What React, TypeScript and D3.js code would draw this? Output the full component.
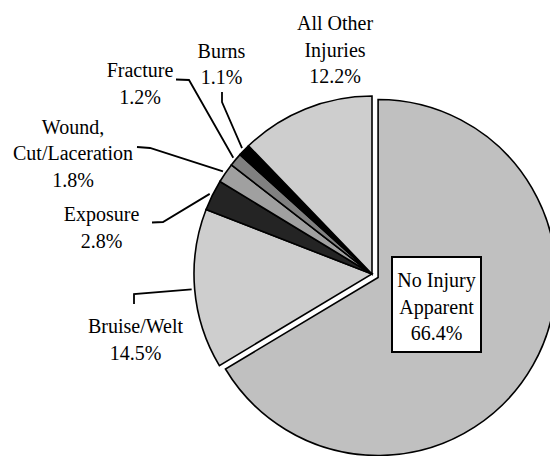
import React from 'react';
import * as d3 from 'd3';

const width = 550;
const height = 456;
const radius = 178;
const cx = 372;
const cy = 274;
const explode = 7;

// data (percent of cases)
const categories = ['No Injury Apparent', 'Bruise/Welt', 'Exposure', 'Wound, Cut/Laceration', 'Fracture', 'Burns', 'All Other Injuries'];
const shares = [66.4, 14.5, 2.8, 1.8, 1.2, 1.1, 12.2];
const labelLines = [['No Injury', 'Apparent'], ['Bruise/Welt'], ['Exposure'], ['Wound,', 'Cut/Laceration'], ['Fracture'], ['Burns'], ['All Other', 'Injuries']];

const fills = ['#c0c0c0', '#cecece', '#242424', '#a0a0a0', '#808080', '#000000', '#cecece'];

// where each label sits, and the elbow of its leader line
const labelLayout = [
    { x: 436.5, y: 287, elbow: null },
    { x: 135.5, y: 333, elbow: [[134, 304], [134, 294]] },
    { x: 101.5, y: 221, elbow: [[152, 222.5], [163, 222]] },
    { x: 73, y: 133.5, elbow: [[137, 147], [150, 148]] },
    { x: 140, y: 77, elbow: [[176, 79.5], [189, 80]] },
    { x: 221.5, y: 57.5, elbow: [[222, 92], [222, 102]] },
    { x: 335, y: 30, elbow: null },
];
const lineGap = 26.5;

const rows = categories.map((name, i) => ({ name, value: shares[i], i }));

const pie = d3.pie<any>()
    .sort(null)
    .value(d => d.value)
    .startAngle(0)
    .endAngle(2 * Math.PI);

const arc = d3.arc<any>().innerRadius(0).outerRadius(radius);
const edge = d3.arc<any>().innerRadius(radius + 3).outerRadius(radius + 3);

export default function App() {
    const arcs = pie(rows);

    return (
        <svg width={width} height={height} style={{ position: 'absolute', left: 0, top: 0, background: '#fff', fontFamily: 'Liberation Serif' }}>
            <g transform={`translate(${cx},${cy})`}>
                {arcs.map((d, i) => {
                    const mid = (d.startAngle + d.endAngle) / 2;
                    const off = i === 0 ? explode : 0;
                    return (
                        <path
                            key={d.data.name}
                            d={arc(d) || ''}
                            transform={`translate(${Math.sin(mid) * off},${-Math.cos(mid) * off})`}
                            fill={fills[i]}
                            stroke="#000"
                            strokeWidth={1.6}
                        />
                    );
                })}
            </g>
            {arcs.map((d, i) => {
                const lay = labelLayout[i];
                if (!lay.elbow) return null;
                const [ex, ey] = edge.centroid(d);
                const pts = [...lay.elbow, [cx + ex, cy + ey]];
                return (
                    <path key={'l' + i} d={d3.line()(pts as [number, number][]) || ''} fill="none" stroke="#000" strokeWidth={1.8} />
                );
            })}
            <rect x={392} y={257} width={89} height={95} fill="#fff" stroke="#000" strokeWidth={2} />
            {arcs.flatMap((d, i) => {
                const lay = labelLayout[i];
                const lines = [...labelLines[i], d3.format('.1f')(d.data.value) + '%'];
                return lines.map((s, k) => (
                    <text key={'t' + i + '-' + k} x={lay.x} y={lay.y + k * lineGap}
                        fontFamily="Liberation Serif" fontSize={20} fill="#000" textAnchor="middle">
                        {s}
                    </text>
                ));
            })}
        </svg>
    );
}
